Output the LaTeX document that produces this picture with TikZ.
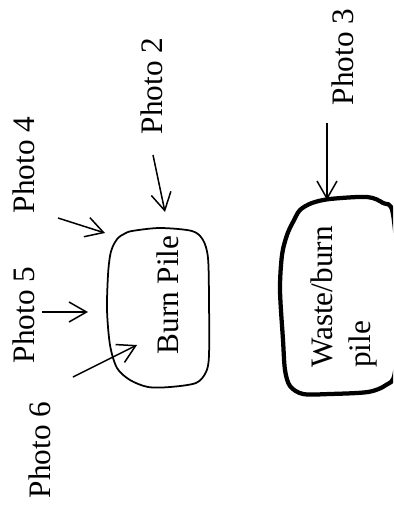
\documentclass[tikz,border=0pt]{standalone}
\usepackage{fontspec}
\setmainfont{Liberation Serif}
\usetikzlibrary{arrows.meta}

\begin{document}
\begin{tikzpicture}[x=0.4pt,y=-0.4pt,
    every node/.style={rotate=90,inner sep=0pt,font=\fontsize{12.5}{15}\selectfont},
    every edge/.style={draw,line width=0.6pt,-{Straight Barb[length=7pt,width=8pt]}}]

      \clip (0,0) rectangle (393,506);

      % the two piles
      \draw[line width=0.7pt] plot[smooth cycle,tension=0.5] coordinates {
        (113,246) (118,238) (124,234) (132,231) (160,228) (192,231) (203,240)
        (208,258) (209,300) (209,355) (206,372) (196,383) (170,387) (148,387)
        (130,380) (117,368) (110,345) (107,310) (108,275) (110,256)};
      \draw[line width=1.7pt] plot[smooth cycle,tension=0.5] coordinates {
        (293,222) (300,210) (312,203) (330,199) (367,197) (383,203) (393,214)
        (400,300) (395,372) (386,385) (368,392) (330,394) (303,394) (290,386)
        (285,370) (283,340) (280,290) (282,255) (287,235)};

      \begin{scope}
        \node (burn)  at (168,295) {Burn Pile};
        \node[align=left] (waste) at (344,297) {Waste/burn\\pile};
        \node (p2) at (152,86)  {Photo 2};
        \node (p3) at (343,57)  {Photo 3};
        \node (p4) at (24,165)  {Photo 4};
        \node (p5) at (24,315)  {Photo 5};
        \node (p6) at (40,450)  {Photo 6};
      \end{scope}

      \coordinate (t2) at (153,155);  \coordinate (h2) at (165,212);
      \coordinate (t3) at (327,123);  \coordinate (h3) at (327,200);
      \coordinate (t4) at (58,218);   \coordinate (h4) at (105,233);
      \coordinate (t5) at (42,312);   \coordinate (h5) at (88,312);
      \coordinate (t6) at (73,377);   \coordinate (h6) at (137,345);

      \path (t2) edge (h2);
      \path (t3) edge (h3);
      \path (t4) edge (h4);
      \path (t5) edge (h5);
      \path (t6) edge (h6);

    \end{tikzpicture}
\end{document}
